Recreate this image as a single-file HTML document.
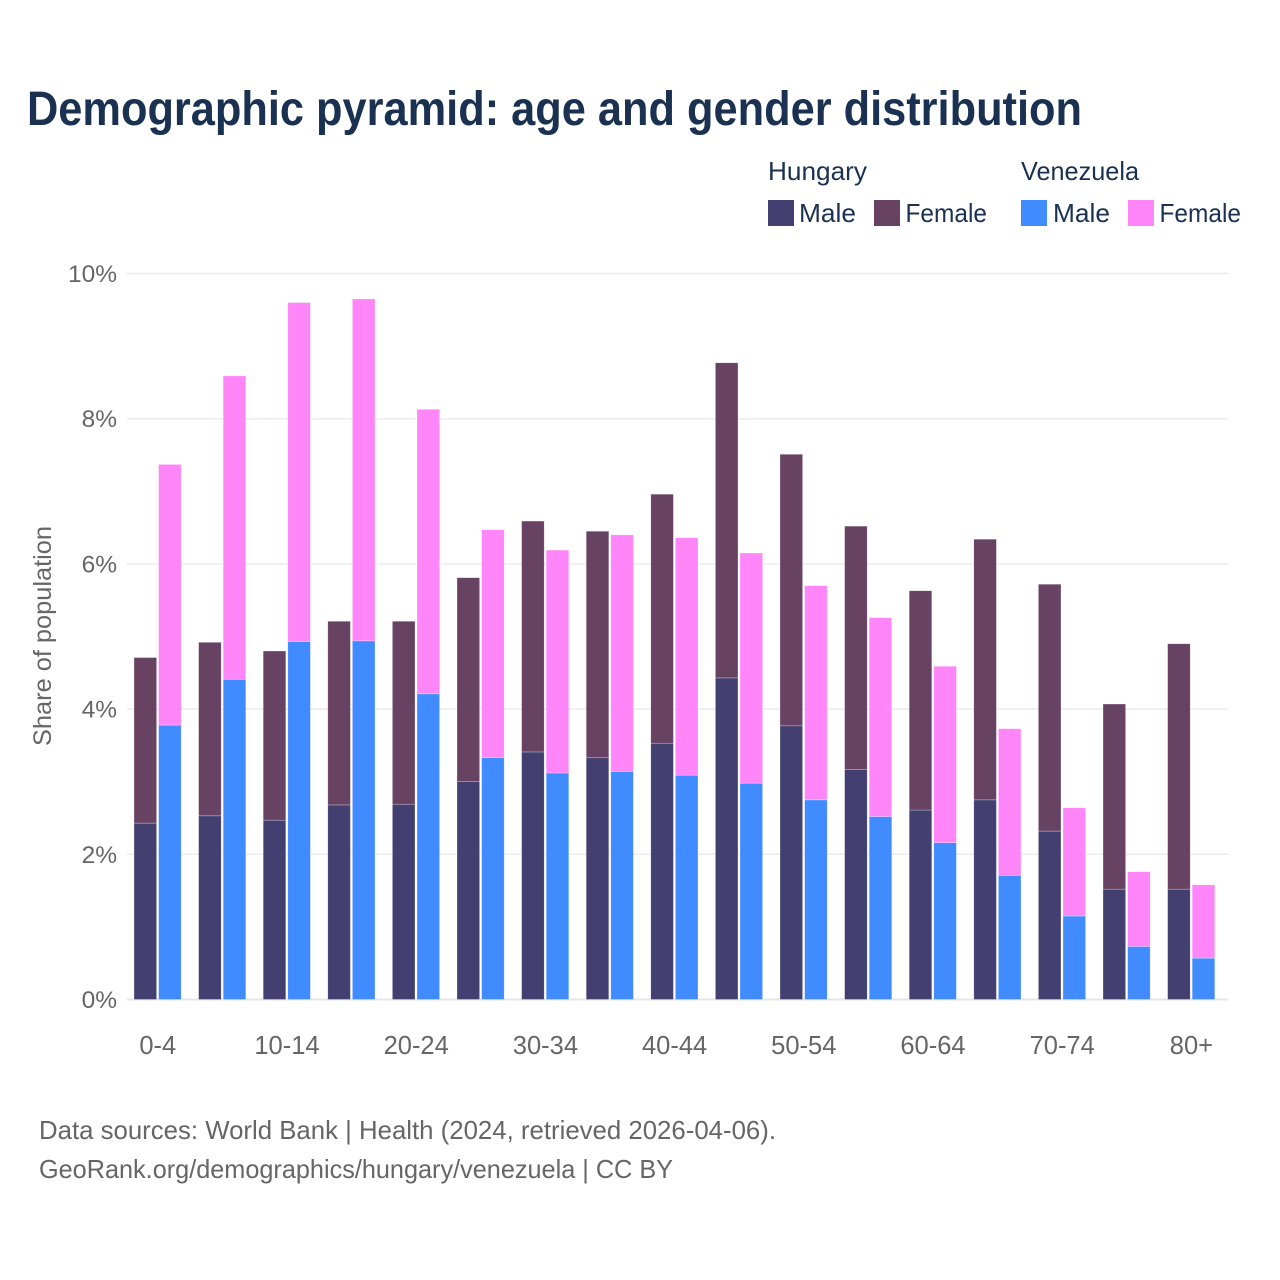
<!DOCTYPE html>
<html lang="en">
<head>
<meta charset="utf-8">
<title>Demographic pyramid: age and gender distribution</title>
<style>
html,body{margin:0;padding:0;background:#fff;}
svg{display:block;font-family:"Liberation Sans",sans-serif;}
</style>
</head>
<body>
<svg id="chart" xmlns="http://www.w3.org/2000/svg" width="1280" height="1280" viewBox="0 0 1280 1280">
  <rect x="0" y="0" width="1280" height="1280" fill="#ffffff"/>
  <text x="27" y="125" font-size="48" font-weight="700" fill="#1a3151" textLength="1055" lengthAdjust="spacingAndGlyphs">Demographic pyramid: age and gender distribution</text>

  <g font-size="26" fill="#1a3151">
    <text x="768" y="180" textLength="99" lengthAdjust="spacingAndGlyphs">Hungary</text>
    <text x="1021" y="180" textLength="118" lengthAdjust="spacingAndGlyphs">Venezuela</text>
    <rect x="768" y="200" width="26" height="26" fill="#433f70"/>
    <text x="799" y="222" textLength="57" lengthAdjust="spacingAndGlyphs">Male</text>
    <rect x="874" y="200" width="26" height="26" fill="#674263"/>
    <text x="905.5" y="222" textLength="81.5" lengthAdjust="spacingAndGlyphs">Female</text>
    <rect x="1021" y="200" width="26" height="26" fill="#3f8bff"/>
    <text x="1053" y="222" textLength="57" lengthAdjust="spacingAndGlyphs">Male</text>
    <rect x="1128" y="200" width="26" height="26" fill="#ff86f9"/>
    <text x="1159.5" y="222" textLength="81.5" lengthAdjust="spacingAndGlyphs">Female</text>
  </g>

  <g id="grid"></g>
  <g id="bars"></g>
  <g id="y-ticks"></g>
  <g id="x-ticks"></g>

  <text transform="translate(51,746) rotate(-90)" x="0" y="0" font-size="25" fill="#666666" textLength="220" lengthAdjust="spacingAndGlyphs">Share of population</text>

  <text x="39" y="1139" font-size="26" fill="#666666" textLength="737" lengthAdjust="spacingAndGlyphs">Data sources: World Bank | Health (2024, retrieved 2026-04-06).</text>
  <text x="39" y="1178" font-size="26" fill="#666666" textLength="634" lengthAdjust="spacingAndGlyphs">GeoRank.org/demographics/hungary/venezuela | CC BY</text>
</svg>
<script>
const ageGroups = ["0-4","5-9","10-14","15-19","20-24","25-29","30-34","35-39","40-44","45-49","50-54","55-59","60-64","65-69","70-74","75-79","80+"];
const hungaryMale = [2.43,2.53,2.47,2.68,2.69,3.00,3.41,3.33,3.53,4.43,3.77,3.17,2.61,2.75,2.32,1.52,1.52];
const hungaryFemale = [2.28,2.39,2.33,2.53,2.52,2.81,3.18,3.12,3.43,4.34,3.74,3.35,3.02,3.59,3.40,2.55,3.38];
const venezuelaMale = [3.78,4.41,4.93,4.94,4.21,3.33,3.12,3.14,3.09,2.98,2.75,2.52,2.16,1.71,1.15,0.73,0.57];
const venezuelaFemale = [3.59,4.18,4.67,4.71,3.92,3.14,3.07,3.26,3.27,3.17,2.95,2.74,2.43,2.02,1.49,1.03,1.01];
const yTicks = [0,2,4,6,8,10];
const xTickLabels = ["0-4","10-14","20-24","30-34","40-44","50-54","60-64","70-74","80+"];

const NS = "http://www.w3.org/2000/svg";
const plot = { left: 127, right: 1228, bottom: 999.5, top: 273.5, yMax: 10 };
const bandStart = 134;
const bandStep = 64.6;
const barWidth = 22.6;
const barOffset = 24.6;

function yScale(v) {
  return plot.bottom - (v / plot.yMax) * (plot.bottom - plot.top);
}
function xScale(category) {
  return bandStart + ageGroups.indexOf(category) * bandStep;
}
function make(tag, attrs, parent) {
  const el = document.createElementNS(NS, tag);
  for (const k in attrs) el.setAttribute(k, attrs[k]);
  parent.appendChild(el);
  return el;
}

const gridG = document.getElementById("grid");
const yG = document.getElementById("y-ticks");
yTicks.forEach(function (t) {
  const line = make("line", { x1: plot.left, x2: plot.right, y1: yScale(t), y2: yScale(t), stroke: t === 0 ? "#e6e6e6" : "#ececec", "stroke-width": t === 0 ? 2 : 1.5 }, gridG);
  
  
  const label = make("text", { x: 117, y: yScale(t) + 8.5, "text-anchor": "end", "font-size": 24.5, fill: "#666666" }, yG);
  
  
  label.textContent = t + "%";
});

const xG = document.getElementById("x-ticks");
xTickLabels.forEach(function (c) {
  const label = make("text", { x: xScale(c) + barOffset + barWidth / 2 - 12.1, y: 1054, "text-anchor": "middle", "font-size": 25.5, fill: "#666666" }, xG);
  
  
  label.textContent = c;
});

const barsG = document.getElementById("bars");
function drawBar(x, base, value, fill) {
  const y0 = yScale(base);
  const y1 = yScale(base + value);
  const r = make("rect", { x: x, y: y1, width: barWidth, height: y0 - y1, fill: fill, stroke: "#ffffff", "stroke-opacity": 0.45, "stroke-width": 0.6 }, barsG);
  
  
}
ageGroups.forEach(function (c, i) {
  const x = xScale(c);
  drawBar(x, 0, hungaryMale[i], "#433f70");
  drawBar(x, hungaryMale[i], hungaryFemale[i], "#674263");
  drawBar(x + barOffset, 0, venezuelaMale[i], "#3f8bff");
  drawBar(x + barOffset, venezuelaMale[i], venezuelaFemale[i], "#ff86f9");
});
</script>
</body>
</html>
